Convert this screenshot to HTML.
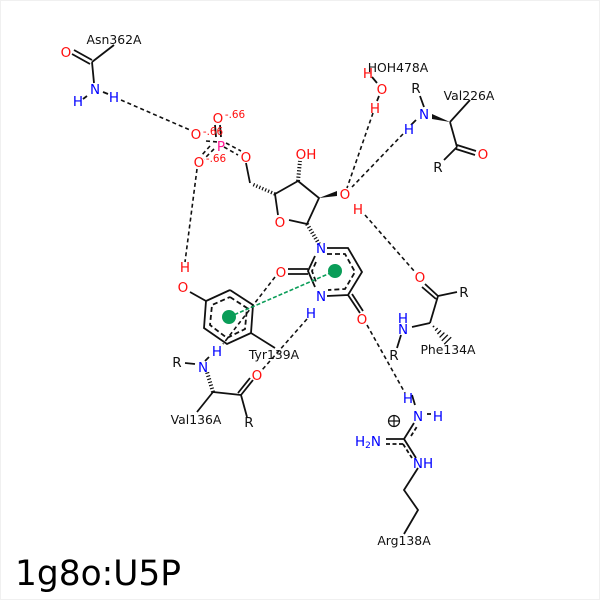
<!DOCTYPE html>
<html><head><meta charset="utf-8"><style>
html,body{margin:0;padding:0;background:#fff}
svg{display:block}
text{font-family:"DejaVu Sans",sans-serif;text-anchor:middle}
.a{font-size:13.5px}
.b{font-size:12.4px;fill:#111}
.r{fill:#ff0d0d}.n{fill:#0000ff}.k{fill:#111}
.c{font-size:10.4px;fill:#ff0d0d}
</style></head><body>
<svg width="600" height="600" viewBox="0 0 600 600" xmlns="http://www.w3.org/2000/svg">
<rect x="0.5" y="0.5" width="599" height="599" fill="#fff" stroke="#f0f0f0"/>
<g stroke="#111" stroke-width="1.8" fill="none" stroke-linecap="butt">
<!-- Asn -->
<path d="M114 45L92 62M92 62L94 83M74 50L92 60M72 54L90 64M87 96L83 99M103 92L108 94"/>
<!-- phosphate -->
<path d="M246 163L250 183M215 125L216 137M220 125L221 137"/>
<!-- sugar -->
<path d="M298 181L319 198L307 224M289 220L307 224M275 194L278 215M275 194L298 181"/>
<!-- base -->
<path d="M315 256L308 271L315 287M327 248L348 248L362 272L348 295L327 296M288 269L308 269M288 274L308 274M348 295L360 313M352 294L363 311"/>
<path d="M327 254L345 254L355 272L345 289L328 290M316 262L312 271L316 282" stroke-dasharray="5 3"/>
<!-- Tyr -->
<path d="M230 290L253 305L251 333L227 344L204 328L206 301L230 290M251 333L275 348M206 301L190 292"/>
<path d="M230 297L247 308L245 329L227 338L210 325L212 305L230 297" stroke-dasharray="5 3"/>
<!-- Val226 -->
<path d="M420 96L424 107M450 122L470 100M450 122L457 147M457 145L476 151M456 149L475 155M457 147L444 160M411 125L416 120"/>
<!-- Phe134 -->
<path d="M425 284L438 296M422 287L436 299M438 296L457 292M438 296L430 323M430 323L412 327M401 335L397 348"/>
<!-- Val136 -->
<path d="M185 363L195 364M209 357L205 361M213 392L197 412M213 392L241 395M241 395L253 380M238 393L250 378M241 395L247 417"/>
<!-- water -->
<path d="M372 77L377 83M379 96L377 101"/>
<!-- Arg -->
<path d="M404 439L414 423M404 439L386 439M404 439L416 458M418 468L404 490L418 510L404 534M427 414L431 414M412 395L415 405"/>
<path d="M411 436L418 425M386 444L403 444M403 444L412 458" stroke-dasharray="4 2.5"/>
<circle cx="394" cy="421" r="5.5" stroke-width="1.2"/>
<path d="M388.5 421H399.5M394 415.5V426.5" stroke-width="1.2"/>
</g>
<!-- wedges -->
<g fill="#111">
<polygon points="319,198 337,191 337,196"/>
<polygon points="432,114 432,119 450,122"/>
</g>
<!-- hashed -->
<g stroke="#111" fill="none">
<path d="M275 194L252 184" stroke-width="3.5" stroke-dasharray="1.2 2"/>
<path d="M298 181L300 161" stroke-dasharray="1.2 2" stroke-width="4"/>
<path d="M307 224L319 244" stroke-dasharray="1.2 2" stroke-width="4"/>
<path d="M213 392L207 372" stroke-dasharray="1.2 2" stroke-width="4"/>
<path stroke-width="1.3" d="M434.2 325.8L432.8 327.2M437.7 328.1L435.1 330.7M441 330.4L437.4 334M444.4 332.6L439.6 337.4M447.8 334.8L441.8 340.8M451.2 337.2L444.2 344.2"/>
</g>
<!-- H bonds -->
<g stroke="#111" stroke-width="1.6" fill="none" stroke-dasharray="4 3">
<path d="M121 100L190 130"/>
<path d="M197 169L185 262"/>
<path d="M373 113L347 188"/>
<path d="M403 134L352 187"/>
<path d="M365 215L415 272"/>
<path d="M275 277L223 344"/>
<path d="M307 319L262 370"/>
<path d="M367 325L405 393"/>
<path d="M210 146L201 156M214 149L204 159M206 141L218 142M226 143L241 151M224 147L238 155"/>
</g>
<path d="M229 317L335 271" stroke="#0a9d58" stroke-width="1.6" stroke-dasharray="4 2" fill="none"/>
<circle cx="229" cy="317" r="7" fill="#0a9d58"/>
<circle cx="335" cy="271" r="7" fill="#0a9d58"/>
<!-- atom labels -->
<g class="a">
<text class="r" x="66" y="57">O</text>
<text class="n" x="95" y="94">N</text>
<text class="n" x="78" y="106">H</text>
<text class="n" x="114" y="102">H</text>
<text class="r" x="196" y="139">O</text>
<text class="r" x="218" y="123">O</text>
<text class="r" x="199" y="167">O</text>
<text class="r" x="246" y="162">O</text>
<text x="221" y="151" style="fill:#ff1493">P</text>
<text class="r" x="306" y="159">OH</text>
<text class="r" x="280" y="227">O</text>
<text class="r" x="345" y="199">O</text>
<text class="r" x="358" y="214">H</text>
<text class="r" x="368" y="78">H</text>
<text class="r" x="382" y="94">O</text>
<text class="r" x="375" y="113">H</text>
<text class="k" x="416" y="93">R</text>
<text class="n" x="424" y="119">N</text>
<text class="n" x="409" y="134">H</text>
<text class="r" x="483" y="159">O</text>
<text class="k" x="438" y="172">R</text>
<text class="n" x="321" y="253">N</text>
<text class="n" x="321" y="301">N</text>
<text class="n" x="311" y="318">H</text>
<text class="r" x="281" y="277">O</text>
<text class="r" x="362" y="324">O</text>
<text class="r" x="183" y="292">O</text>
<text class="r" x="185" y="272">H</text>
<text class="n" x="217" y="356">H</text>
<text class="n" x="203" y="372">N</text>
<text class="k" x="177" y="367">R</text>
<text class="r" x="257" y="380">O</text>
<text class="k" x="249" y="427">R</text>
<text class="r" x="420" y="282">O</text>
<text class="k" x="464" y="297">R</text>
<text class="n" x="403" y="323">H</text>
<text class="n" x="403" y="334">N</text>
<text class="k" x="394" y="360">R</text>
<text class="n" x="408" y="403">H</text>
<text class="n" x="418" y="421">N</text>
<text class="n" x="438" y="421">H</text>
<text class="n" x="368" y="446">H<tspan font-size="9" dy="2">2</tspan><tspan dy="-2">N</tspan></text>
<text class="n" x="423" y="468">NH</text>
</g>
<g class="c">
<text x="213" y="135">-.66</text>
<text x="235" y="118">-.66</text>
<text x="216" y="162">-.66</text>
</g>
<g class="b">
<text x="114" y="44">Asn362A</text>
<text x="398" y="72">HOH478A</text>
<text x="469" y="100">Val226A</text>
<text x="448" y="354">Phe134A</text>
<text x="274" y="359">Tyr139A</text>
<text x="196" y="424">Val136A</text>
<text x="404" y="545">Arg138A</text>
</g>
<text x="98" y="585" style="font-size:34.4px;fill:#000">1g8o:U5P</text>
</svg>
</body></html>
